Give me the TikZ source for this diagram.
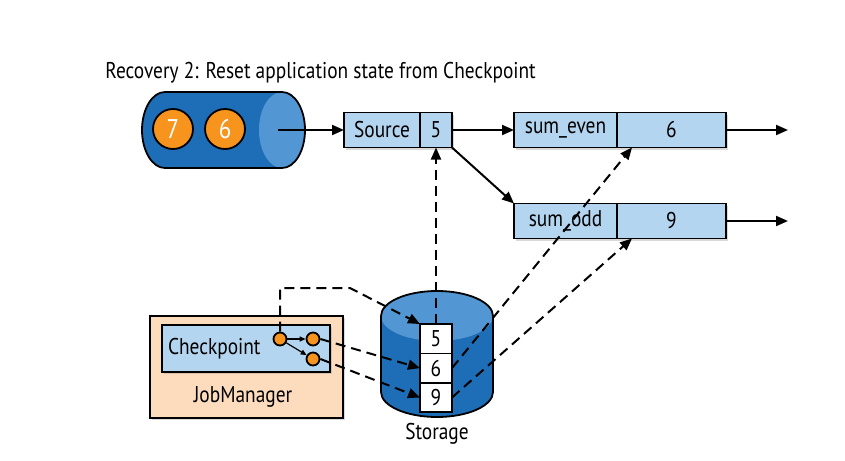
\documentclass[tikz,border=0pt]{standalone}
\usepackage{fontspec}
\setmainfont{PT Sans}[FakeStretch=0.85]
\usetikzlibrary{arrows.meta,positioning,shadows}

\definecolor{queueblue}{HTML}{1E6DB7}
\definecolor{faceblue}{HTML}{5297D3}
\definecolor{boxblue}{HTML}{B4D5EF}
\definecolor{dotorange}{HTML}{F7941D}
\definecolor{jmpeach}{HTML}{FCDCBC}

\begin{document}
\begin{tikzpicture}[x=0.5pt,y=-0.5pt,font=\fontsize{11.4}{13}\selectfont]
	\tikzstyle{CellStyle}=[draw,fill=boxblue,line width=0.9pt,minimum height=17.5pt,inner sep=0pt,outer sep=0pt,
		drop shadow={opacity=0.3,shadow xshift=1.2pt,shadow yshift=-1.2pt}]
	\tikzstyle{SlotStyle}=[draw,fill=white,line width=0.8pt,minimum width=16pt,minimum height=14.7pt,inner sep=0pt,outer sep=0pt]
	\tikzstyle{DotStyle}=[circle,draw,fill=dotorange,line width=0.9pt,inner sep=0pt]
	\tikzstyle{Flow}=[line width=1pt,-{Triangle[length=6pt,width=5pt]}]
	\tikzstyle{Sync}=[line width=1pt,dash pattern=on 5pt off 3pt,-{Triangle[length=6pt,width=5pt]}]
	\useasboundingbox (0,0) rectangle (845,460);
	% title
	\node[anchor=west,inner sep=0pt] (title) at (105,73) {Recovery 2: Reset application state from Checkpoint};
	% input queue
	\fill[queueblue] (165,92) -- (282,92) arc[start angle=-90,end angle=90,x radius=23,y radius=38]
		-- (165,168) arc[start angle=90,end angle=270,x radius=23,y radius=38] -- cycle;
	\fill[faceblue] (282,130) ellipse[x radius=23,y radius=38];
	\draw[line width=0.9pt] (165,92) -- (282,92) arc[start angle=-90,end angle=90,x radius=23,y radius=38]
		-- (165,168) arc[start angle=90,end angle=270,x radius=23,y radius=38] -- cycle;
	\node[DotStyle,minimum size=20pt,text=white,font=\fontsize{13.5}{14}\selectfont] (q7) at (173,129) {7};
	\node[DotStyle,minimum size=20pt,text=white,font=\fontsize{13.5}{14}\selectfont] (q6) at (225,129) {6};
	\coordinate (qout) at (278,130);
	% operators
	\node[CellStyle,minimum width=38pt] (src) at (382,130) {Source};
	\node[CellStyle,minimum width=16pt,right=0pt of src] (srcval) {5};
	\node[CellStyle,minimum width=51.5pt] (sevlab) at (565.5,130) {sum\_even};
	\node[CellStyle,minimum width=54.5pt,right=0pt of sevlab] (sevval) {6};
	\node[CellStyle,minimum width=51.5pt] (soddlab) at (565.5,221) {sum\_odd};
	\node[CellStyle,minimum width=54.5pt,right=0pt of soddlab] (soddval) {9};
	\coordinate (sevout) at (788,130);
	\coordinate (soddout) at (788,221);
	% storage
	\fill[queueblue] (381,316) -- (381,392) arc[start angle=180,end angle=0,x radius=56,y radius=25]
		-- (493,316) arc[start angle=0,end angle=-180,x radius=56,y radius=25] -- cycle;
	\fill[faceblue] (437,316) ellipse[x radius=56,y radius=25];
	\draw[line width=0.9pt] (381,316) -- (381,392) arc[start angle=180,end angle=0,x radius=56,y radius=25]
		-- (493,316) arc[start angle=0,end angle=-180,x radius=56,y radius=25] -- cycle;
	\node[SlotStyle] (st5) at (436,338.7) {5};
	\node[SlotStyle,below=0pt of st5] (st6) {6};
	\node[SlotStyle,below=0pt of st6] (st9) {9};
	\node (stlabel) at (437,434) {Storage};
	% job manager
	\node[draw,fill=jmpeach,line width=0.9pt,minimum width=96.5pt,minimum height=51pt,
		drop shadow={opacity=0.3,shadow xshift=1.2pt,shadow yshift=-1.2pt}] (jm) at (246.5,367) {};
	\node[CellStyle,minimum height=23.5pt,text width=78pt,inner sep=3pt,align=left] (ckpt) at (246,348.5) {Checkpoint};
	\node (jmlabel) at (243,397) {JobManager};
	\node[DotStyle,minimum size=6.5pt] (c0) at (280,339) {};
	\node[DotStyle,minimum size=6.5pt] (c1) at (313,339) {};
	\node[DotStyle,minimum size=6.5pt] (c2) at (313,359) {};
	\coordinate (cpbend) at (350,288);
	% connectors
	\draw[line width=0.6pt,-{Triangle[length=3pt,width=2.5pt]}] (c0) -- (c1);
	\draw[line width=0.6pt,-{Triangle[length=3pt,width=2.5pt]}] (c0) -- (c2);
	\draw[Flow] (qout) -- (src);
	\draw[Flow] (srcval) -- (sevlab);
	\draw[Flow] (srcval.south east) -- (soddlab.north west);
	\draw[Flow] (sevval) -- (sevout);
	\draw[Flow] (soddval) -- (soddout);
	\draw[Sync] (c0) |- (cpbend) -- (st5.north west);
	\draw[Sync] (c1.east) -- (st6.west);
	\draw[Sync] (c2.east) -- (st9.west);
	\draw[Sync] (st5) -- (srcval);
	\draw[Sync] (st6.east) -- ([xshift=7.5pt]sevval.south west);
	\draw[Sync] (st9.east) -- ([xshift=7.5pt]soddval.south west);
\end{tikzpicture}
\end{document}
